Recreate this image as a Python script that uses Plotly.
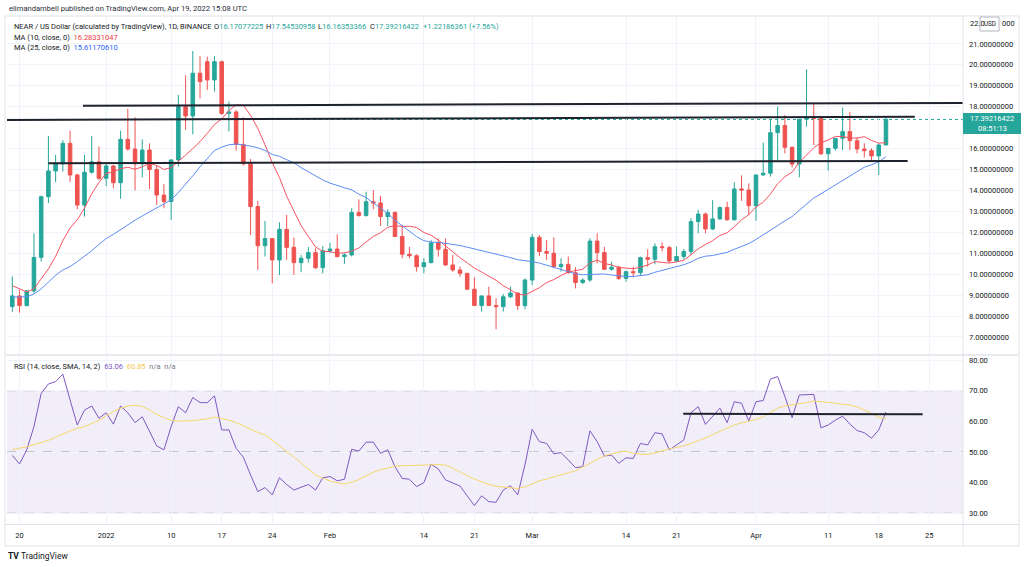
import plotly.graph_objects as go
import pandas as pd

W, H = 1024, 567
def px(x): return x / W
def py(y): return 1 - y / H

GREEN = "#26a69a"
RED = "#ef5350"
TXT = "#131722"
GRID = "#f0f3fa"
FRAME = "#e0e3eb"

# ---------------- data ----------------
dates = pd.date_range("2021-12-19", "2022-04-19", freq="D")

opens = [8.45, 8.96, 8.5, 9.2, 10.8, 13.7, 14.93, 15.27, 16.25, 14.74,
         13.3, 14.87, 15.37, 14.58, 15.17, 14.37, 16.44, 15.98, 15.27, 15.93,
         15.0, 13.78, 13.47, 15.46, 18.0, 17.56, 19.6, 20.15, 19.28, 20.15,
         17.68, 17.75, 16.2, 15.27, 13.23, 11.36, 11.7, 10.68, 12.14, 11.28,
         10.55, 10.76, 11.03, 10.31, 11.12, 11.2, 10.84, 10.92, 12.95, 12.8,
         13.46, 13.4, 12.75, 12.95, 11.8, 10.95, 10.88, 10.36, 10.55, 11.5,
         11.19, 10.44, 10.2, 10.04, 9.28, 8.5, 8.96, 8.5, 8.45, 8.92,
         9.1, 8.5, 9.72, 11.76, 11.08, 11.0, 10.36, 10.47, 10.07, 9.6,
         9.72, 11.58, 11.03, 10.23, 10.33, 9.8, 10.12, 10.07, 10.79, 10.71,
         11.31, 11.27, 10.63, 10.84, 11.08, 12.51, 12.87, 12.16, 12.64, 13.18,
         12.6, 14.07, 14.02, 13.27, 14.74, 14.82, 16.76, 17.1, 16.06, 15.26,
         17.4, 17.49, 17.45, 15.75, 16.01, 16.49, 16.81, 16.38, 15.98, 15.9,
         15.65, 16.17077225]

highs = [9.9, 9.25, 9.25, 11.95, 13.75, 16.6, 15.7, 16.4, 16.86, 14.8,
         15.7, 16.6, 16.1, 15.3, 15.2, 16.86, 17.9, 17.5, 16.44, 16.25,
         15.2, 14.3, 15.46, 18.56, 19.5, 20.66, 20.42, 20.39, 20.42, 20.2,
         18.24, 17.85, 17.5, 15.5, 13.5, 12.54, 11.72, 12.48, 12.83, 11.75,
         10.92, 11.3, 11.24, 11.35, 11.5, 11.9, 11.0, 13.15, 13.57, 13.94,
         14.02, 13.73, 13.1, 13.0, 12.35, 11.3, 10.95, 10.76, 11.63, 11.7,
         11.7, 10.92, 10.36, 10.04, 9.85, 8.96, 9.4, 8.85, 9.05, 9.4,
         9.12, 9.8, 11.92, 11.87, 11.63, 11.76, 10.76, 10.84, 10.33, 9.8,
         11.71, 11.95, 11.31, 10.6, 10.39, 10.17, 10.36, 10.84, 11.19, 11.47,
         11.52, 11.35, 11.31, 11.2, 12.67, 13.07, 12.95, 13.54, 13.23, 13.46,
         14.39, 14.72, 14.34, 14.74, 16.28, 17.4, 18.0, 17.6, 16.1, 17.4,
         19.79, 18.2, 17.55, 16.01, 16.49, 17.96, 17.76, 16.54, 16.25, 16.01,
         16.25, 17.54530958]

lows = [8.2, 8.16, 8.45, 9.1, 10.6, 13.4, 14.4, 14.9, 14.4, 13.1,
        12.75, 14.8, 14.5, 14.2, 14.1, 13.6, 15.9, 14.0, 14.63, 14.07,
        13.3, 13.15, 12.59, 15.14, 16.9, 16.68, 18.4, 18.8, 18.72, 17.6,
        16.82, 15.9, 15.2, 11.87, 10.2, 10.84, 9.56, 9.96, 10.68, 9.96,
        10.09, 10.55, 10.25, 10.04, 11.0, 10.8, 10.49, 10.85, 12.75, 12.75,
        13.1, 12.3, 12.3, 11.8, 10.76, 10.76, 10.12, 10.04, 10.52, 10.84,
        10.4, 10.12, 9.88, 9.25, 8.5, 8.21, 8.5, 7.37, 8.21, 8.85,
        8.29, 8.32, 9.48, 10.87, 10.68, 10.28, 10.12, 10.04, 9.32, 9.53,
        9.64, 10.52, 10.2, 10.17, 9.72, 9.64, 9.85, 9.96, 10.36, 10.47,
        11.08, 10.57, 10.57, 10.7, 10.92, 11.95, 11.95, 12.1, 12.6, 12.55,
        12.55, 13.5, 12.83, 12.55, 14.7, 14.66, 15.37, 15.77, 15.1, 14.63,
        17.05, 16.17, 15.7, 14.95, 15.9, 15.93, 15.93, 15.77, 15.58, 15.46,
        14.74, 16.16353366]

closes = [8.96, 8.5, 9.2, 10.8, 13.7, 14.93, 15.27, 16.25, 14.74, 13.3,
          14.87, 15.37, 14.58, 15.17, 14.37, 16.44, 15.98, 15.27, 15.93, 15.0,
          13.78, 13.47, 15.46, 18.0, 17.56, 19.6, 19.2, 19.28, 20.15, 17.68,
          17.75, 16.2, 15.27, 13.23, 11.36, 11.7, 10.68, 12.14, 11.28, 10.55,
          10.76, 11.03, 10.31, 11.12, 11.2, 10.84, 10.92, 12.95, 12.8, 13.46,
          13.4, 12.75, 12.95, 11.8, 10.95, 10.88, 10.36, 10.55, 11.5, 11.19,
          10.44, 10.2, 10.04, 9.28, 8.5, 8.96, 8.5, 8.45, 8.92, 9.1,
          8.5, 9.72, 11.76, 11.08, 11.0, 10.36, 10.47, 10.07, 9.6, 9.72,
          11.58, 11.03, 10.23, 10.33, 9.8, 10.12, 10.07, 10.79, 10.71, 11.31,
          11.27, 10.63, 10.84, 11.08, 12.51, 12.87, 12.16, 12.64, 13.18, 12.6,
          14.07, 14.02, 13.27, 14.74, 14.82, 16.76, 17.1, 16.06, 15.26, 17.4,
          17.49, 17.45, 15.75, 16.01, 16.49, 16.81, 16.38, 15.98, 15.9, 15.65,
          16.17, 17.39216422]

ma10 = [9.45, 9.3, 9.15, 9.3, 9.75, 10.25, 10.85, 11.6, 12.2, 12.6,
        13.16, 13.84, 14.38, 14.82, 14.89, 15.04, 15.11, 15.01, 15.13, 15.3,
        15.19, 15.0, 15.09, 15.37, 15.69, 16.0, 16.33, 16.73, 17.15, 17.42,
        17.82, 18.09, 18.07, 17.59, 16.97, 16.18, 15.33, 14.62, 13.73, 13.02,
        12.32, 11.8, 11.3, 11.09, 11.08, 10.99, 11.02, 11.1, 11.25, 11.54,
        11.8, 11.98, 12.24, 12.31, 12.28, 12.29, 12.23, 11.99, 11.86, 11.63,
        11.34, 11.08, 10.79, 10.54, 10.29, 10.1, 9.92, 9.71, 9.45, 9.24,
        9.05, 9.0, 9.17, 9.35, 9.6, 9.74, 9.94, 10.1, 10.17, 10.23,
        10.54, 10.67, 10.51, 10.44, 10.32, 10.3, 10.26, 10.33, 10.44, 10.6,
        10.57, 10.53, 10.59, 10.66, 10.93, 11.21, 11.42, 11.6, 11.85, 11.98,
        12.26, 12.6, 12.84, 13.21, 13.44, 13.83, 14.32, 14.66, 14.87, 15.35,
        15.69, 16.04, 16.28, 16.41, 16.58, 16.58, 16.51, 16.5, 16.57, 16.39,
        16.26, 16.28331047]

ma25 = [8.9, 8.9, 8.92, 9.05, 9.3, 9.62, 9.95, 10.2, 10.36, 10.6,
        10.85, 11.12, 11.42, 11.7, 11.9, 12.13, 12.38, 12.58, 12.78, 12.97,
        13.15, 13.32, 13.55, 13.9, 14.28, 14.7, 15.13, 15.53, 15.91, 16.07,
        16.18, 16.22, 16.18, 16.12, 16.04, 15.91, 15.72, 15.63, 15.47, 15.32,
        15.09, 14.89, 14.69, 14.5, 14.35, 14.23, 14.13, 14.03, 13.82, 13.66,
        13.41, 13.15, 12.9, 12.57, 12.3, 12.02, 11.79, 11.6, 11.53, 11.52,
        11.47, 11.45, 11.37, 11.29, 11.21, 11.14, 11.03, 10.96, 10.87, 10.79,
        10.69, 10.65, 10.6, 10.53, 10.43, 10.31, 10.22, 10.1, 10.02, 9.97,
        9.99, 10.02, 10.01, 9.96, 9.91, 9.89, 9.89, 9.92, 9.97, 10.09,
        10.18, 10.26, 10.36, 10.45, 10.58, 10.76, 10.86, 10.89, 10.97, 11.04,
        11.19, 11.33, 11.46, 11.66, 11.87, 12.07, 12.32, 12.55, 12.75, 13.05,
        13.35, 13.64, 13.84, 14.05, 14.26, 14.48, 14.71, 14.92, 15.11, 15.23,
        15.37, 15.6117061]

rsi = [48.9, 46.1, 50.7, 58.3, 69.1, 72.2, 72.95, 75.4, 67.0, 58.8,
       63.7, 65.0, 61.0, 62.8, 59.1, 65.0, 62.8, 59.6, 61.5, 56.6,
       52.0, 50.7, 58.3, 64.8, 62.8, 67.8, 66.1, 66.1, 68.3, 57.2,
       57.2, 51.2, 48.3, 42.5, 37.1, 38.4, 36.0, 41.6, 39.4, 37.6,
       38.4, 39.4, 37.6, 41.6, 42.0, 40.6, 41.1, 50.9, 50.3, 53.2,
       53.2, 49.6, 50.7, 45.2, 41.4, 41.1, 38.7, 40.0, 46.0, 44.5,
       40.9, 40.0, 38.9, 35.7, 32.5, 35.7, 33.8, 33.6, 37.6, 39.0,
       36.0, 45.8, 57.4, 53.4, 52.8, 49.4, 49.8, 47.4, 44.9, 45.2,
       56.9, 53.4, 48.7, 49.0, 46.3, 48.1, 47.9, 52.8, 52.3, 56.3,
       55.9, 50.7, 52.3, 53.9, 62.8, 64.8, 59.0, 61.5, 64.3, 59.6,
       66.4, 65.9, 60.1, 66.4, 66.8, 73.8, 74.6, 68.1, 61.2, 68.6,
       68.8, 68.8, 57.9, 58.8, 60.4, 61.7, 59.1, 57.0, 56.3, 54.5,
       57.2, 63.06]

rsi_sma = [50.8, 51.2, 51.7, 52.4, 53.1, 53.8, 54.8, 55.9, 56.9, 57.7,
           58.3, 59.3, 60.3, 61.8, 63.2, 64.3, 65.0, 65.3, 64.9, 63.7,
           62.3, 61.2, 60.3, 60.1, 60.1, 60.2, 60.5, 60.8, 61.4, 61.0,
           60.4, 59.6, 58.5, 57.6, 56.4, 55.5, 53.9, 52.0, 50.0, 48.3,
           46.4, 44.6, 42.5, 41.5, 40.5, 40.0, 39.6, 40.1, 41.0, 42.2,
           43.4, 44.2, 44.9, 45.4, 45.5, 45.6, 45.6, 45.7, 45.8, 45.9,
           45.7, 44.8, 43.5, 42.2, 41.2, 40.2, 39.4, 38.8, 38.5, 38.3,
           38.1, 38.6, 39.5, 40.6, 41.2, 41.8, 42.5, 43.2, 43.9, 45.0,
           46.3, 47.6, 48.7, 49.4, 50.0, 50.3, 49.6, 49.3, 49.2, 49.7,
           50.4, 51.0, 51.5, 52.0, 52.8, 53.6, 54.6, 55.7, 56.8, 57.8,
           58.8, 59.5, 60.0, 60.6, 61.5, 62.8, 64.3, 65.0, 65.3, 65.6,
           66.1, 66.6, 66.5, 66.2, 65.9, 65.6, 65.3, 64.7, 63.7, 62.6,
           61.3, 60.85]

x_tick_dates = ["2021-12-20", "2022-01-01", "2022-01-10", "2022-01-17", "2022-01-24",
                "2022-02-01", "2022-02-14", "2022-02-21", "2022-03-01", "2022-03-14",
                "2022-03-21", "2022-04-01", "2022-04-11", "2022-04-18", "2022-04-25"]
x_tick_text = ["20", "2022", "10", "17", "24", "Feb", "14", "21", "Mar", "14",
               "21", "Apr", "11", "18", "25"]
price_ticks = [7, 8, 9, 10, 11, 12, 13, 14, 15, 16, 18, 19, 20, 21]
top_price_label = 22
rsi_ticks = [30, 40, 50, 60, 70, 80]

# hand-drawn horizontal levels (start date, start value, end date, end value)
level_upper = ["2021-12-28 19:00", 18.05, None, 18.18]
level_mid = [None, 17.37, "2022-04-23", 17.52]
level_low = ["2021-12-24", 15.30, "2022-04-22", 15.41]
rsi_level = ["2022-03-21 22:00", 62.5, "2022-04-24 02:00", 62.3]
last_price = 17.39216422

# ---------------- geometry ----------------
start = pd.Timestamp("2021-12-19")
x_range = [str(start - pd.Timedelta(days=0.734)), str(start + pd.Timedelta(days=131.67))]
XDOM = [px(7), px(963)]
MAIN_DOM = [py(354), py(16)]
RSI_DOM = [py(524), py(356)]
price_range = [22 - (354 - 23) / 20.93, 22 + (23 - 16) / 20.93]
rsi_range = [70 - (524 - 390.7) / 3.065, 70 + (390.7 - 356) / 3.065]

FONT = "Roboto, 'Open Sans', sans-serif"
FS = 7.5

fig = go.Figure()
fig.add_trace(go.Candlestick(
    x=dates, open=opens, high=highs, low=lows, close=closes,
    increasing=dict(line=dict(color=GREEN, width=1), fillcolor=GREEN),
    decreasing=dict(line=dict(color=RED, width=1), fillcolor=RED),
    whiskerwidth=0, showlegend=False, hoverinfo="skip", xaxis="x", yaxis="y"))
fig.add_trace(go.Scatter(x=dates, y=ma10, mode="lines", line=dict(color="#f7525f", width=1),
                         showlegend=False, hoverinfo="skip", xaxis="x", yaxis="y"))
fig.add_trace(go.Scatter(x=dates, y=ma25, mode="lines", line=dict(color="#5b8cf5", width=1),
                         showlegend=False, hoverinfo="skip", xaxis="x", yaxis="y"))
fig.add_trace(go.Scatter(x=dates, y=rsi, mode="lines", line=dict(color="#7e57c2", width=1),
                         showlegend=False, hoverinfo="skip", xaxis="x2", yaxis="y2"))
fig.add_trace(go.Scatter(x=dates, y=rsi_sma, mode="lines", line=dict(color="#f5d76a", width=1),
                         showlegend=False, hoverinfo="skip", xaxis="x2", yaxis="y2"))

shapes = []
# RSI band & dashed levels
shapes.append(dict(type="rect", xref="paper", yref="y2", x0=XDOM[0], x1=XDOM[1], y0=30, y1=70,
                   fillcolor="rgba(126,87,194,0.1)", line=dict(width=0), layer="below"))
for lv in (70, 50, 30):
    shapes.append(dict(type="line", xref="paper", yref="y2", x0=XDOM[0], x1=XDOM[1], y0=lv, y1=lv,
                       line=dict(color="#9598a1", width=1, dash="dash"), layer="below"))
# current price dotted line
shapes.append(dict(type="line", xref="paper", yref="y", x0=XDOM[0], x1=XDOM[1], y0=last_price, y1=last_price,
                   line=dict(color=GREEN, width=1, dash="dot"), layer="below"))
# drawn levels
LV = dict(color="#1e222d", width=2)
shapes.append(dict(type="line", xref="x", yref="y", x0=level_upper[0], y0=level_upper[1],
                   x1=x_range[1], y1=level_upper[3], line=LV, layer="above"))
shapes.append(dict(type="line", xref="x", yref="y", x0=x_range[0], y0=level_mid[1],
                   x1=level_mid[2], y1=level_mid[3], line=LV, layer="above"))
shapes.append(dict(type="line", xref="x", yref="y", x0=level_low[0], y0=level_low[1],
                   x1=level_low[2], y1=level_low[3], line=LV, layer="above"))
shapes.append(dict(type="line", xref="x2", yref="y2", x0=rsi_level[0], y0=rsi_level[1],
                   x1=rsi_level[2], y1=rsi_level[3], line=LV, layer="above"))
# frame & separators
shapes.append(dict(type="rect", xref="paper", yref="paper", x0=px(5), x1=px(1019), y0=py(546), y1=py(16),
                   line=dict(color=FRAME, width=1), fillcolor="rgba(0,0,0,0)", layer="above"))
shapes.append(dict(type="line", xref="paper", yref="paper", x0=px(963), x1=px(963), y0=py(546), y1=py(16),
                   line=dict(color=FRAME, width=1), layer="above"))
shapes.append(dict(type="line", xref="paper", yref="paper", x0=px(5), x1=px(1019), y0=py(355), y1=py(355),
                   line=dict(color=FRAME, width=1.5), layer="above"))
shapes.append(dict(type="line", xref="paper", yref="paper", x0=px(5), x1=px(1019), y0=py(524.5), y1=py(524.5),
                   line=dict(color=FRAME, width=1), layer="above"))
# price label box
shapes.append(dict(type="rect", xref="paper", yref="paper", x0=px(963), x1=px(1021), y0=py(134), y1=py(113),
                   fillcolor=GREEN, line=dict(width=0), layer="above"))
# USD badge
shapes.append(dict(type="rect", xref="paper", yref="paper", x0=px(980), x1=px(999), y0=py(31), y1=py(17),
                   fillcolor="white", line=dict(color="#b2b5be", width=1), layer="above"))

ann = []
def text(x, y, s, size=FS, color=TXT, xanchor="left"):
    ann.append(dict(x=px(x), y=py(y), xref="paper", yref="paper", text=s, showarrow=False,
                    xanchor=xanchor, yanchor="middle", font=dict(family=FONT, size=size, color=color)))

NB = "\u00a0"
def c(s, col):
    return f"<span style='color:{col}'>{s}</span>"

text(7, 9, "elimandambell published on TradingView.com, Apr 19, 2022 15:08 UTC", size=7.6, color="#2a2e39")
text(12, 26.5, "NEAR / US Dollar (calculated by TradingView), 1D, BINANCE")
text(212, 26.5, "O" + c("16.17077225", GREEN))
text(264, 26.5, "H" + c("17.54530958", GREEN))
text(316, 26.5, "L" + c("16.16353366", GREEN))
text(368, 26.5, "C" + c("17.39216422", GREEN))
text(421, 26.5, c("+1.22186361 (+7.56%)", GREEN))
text(12, 37.5, "MA (10, close, 0)" + NB * 2 + c("16.28331047", "#f23645"))
text(12, 47.5, "MA (25, close, 0)" + NB * 2 + c("15.61170610", "#2962ff"))
text(12, 366.5, "RSI (14, close, SMA, 14, 2)" + NB * 2 + c("63.06", "#7e57c2") + NB * 2 +
     c("60.85", "#f2c94c") + NB * 2 + c("n/a", "#787b86") + NB * 2 + c("n/a", "#787b86"))
# price label text
text(992, 118.5, "17.39216422", color="white", xanchor="center")
text(992, 128.5, "08:51:13", color="white", xanchor="center")
# top price label, partly hidden behind the USD badge
text(968, 23, f"{top_price_label}.0")
text(1000, 23, "000")
text(989.5, 24, "USD", size=6.3, color=TXT, xanchor="center")
# logo
text(6, 556, "<b>TV</b>" + NB + "TradingView", size=8.5, color="#131722")

fig.update_layout(
    width=W, height=H, margin=dict(l=0, r=0, t=0, b=0),
    paper_bgcolor="white", plot_bgcolor="rgba(0,0,0,0)", showlegend=False,
    font=dict(family=FONT, size=FS, color=TXT),
    shapes=shapes, annotations=ann,
    xaxis=dict(domain=XDOM, anchor="y", range=x_range, type="date", rangeslider=dict(visible=False),
               tickvals=x_tick_dates, ticktext=x_tick_text, showticklabels=False,
               showgrid=True, gridcolor=GRID, gridwidth=1, zeroline=False, showline=False, ticks=""),
    xaxis2=dict(domain=XDOM, anchor="y2", range=x_range, type="date",
                tickvals=x_tick_dates, ticktext=x_tick_text, showticklabels=True,
                tickfont=dict(family=FONT, size=FS, color=TXT), ticklabelstandoff=5,
                showgrid=True, gridcolor=GRID, gridwidth=1, zeroline=False, showline=False, ticks=""),
    yaxis=dict(domain=MAIN_DOM, anchor="x", side="right", range=price_range,
               tickvals=price_ticks, ticktext=[f"{v:.8f}" for v in price_ticks],
               tickfont=dict(family=FONT, size=FS, color=TXT), ticklabelstandoff=5,
               showgrid=True, gridcolor=GRID, gridwidth=1, zeroline=False, showline=False, ticks="",
               automargin=False),
    yaxis2=dict(domain=RSI_DOM, anchor="x2", side="right", range=rsi_range,
                tickvals=rsi_ticks, ticktext=[f"{v:.2f}" for v in rsi_ticks],
                tickfont=dict(family=FONT, size=FS, color=TXT), ticklabelstandoff=5,
                showgrid=True, gridcolor=GRID, gridwidth=1, zeroline=False, showline=False, ticks="",
                automargin=False),
)

fig.write_html("out.html", config={"displayModeBar": False},
               post_script="document.body.style.margin='0px';")
